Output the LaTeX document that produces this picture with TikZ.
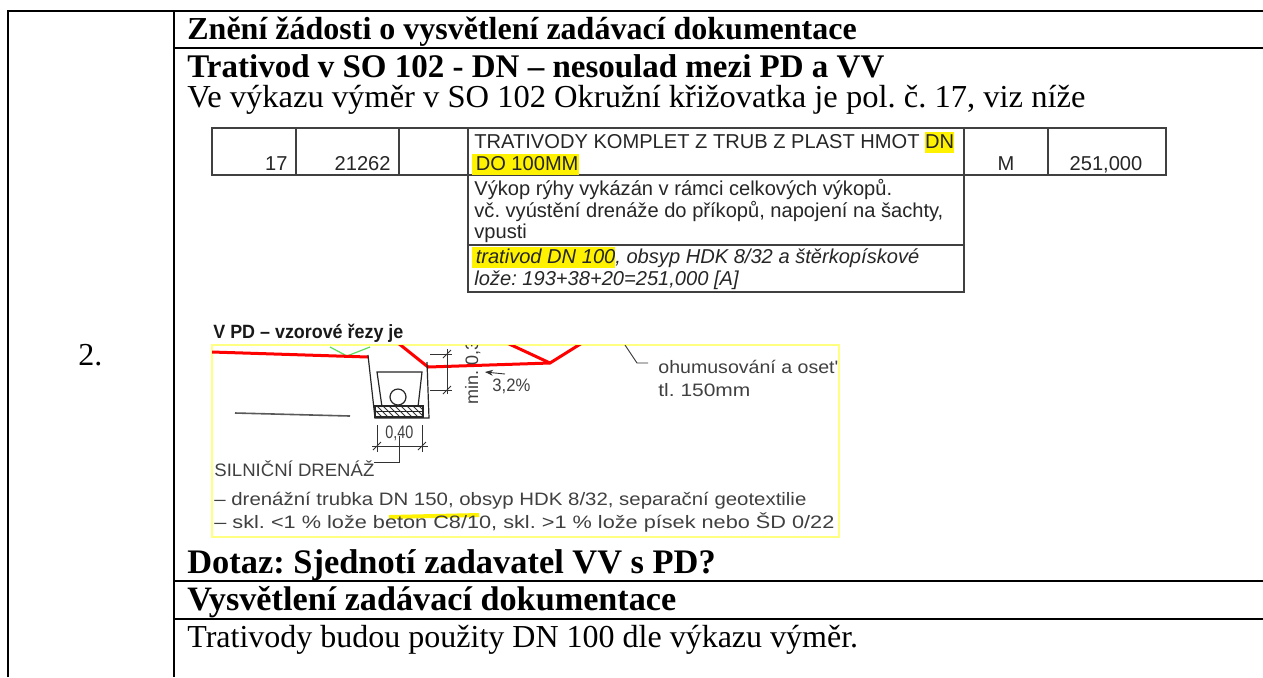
\documentclass[tikz,border=0pt]{standalone}
\usepackage{fontspec}
\setmainfont{Liberation Serif}
\newfontfamily\arialf{Liberation Sans}
\usetikzlibrary{patterns,arrows.meta}
\definecolor{cadyellow}{RGB}{255,255,130}
\definecolor{cadgreen}{RGB}{90,220,90}
\newcommand\hlbox[1]{{\setlength{\fboxsep}{0pt}\colorbox{yellow}{\rule[-2.6pt]{0pt}{10.8pt}#1}}}
\newcommand\fitw[2]{\resizebox{#1}{\height}{#2}}
\frenchspacing
\begin{document}
\begin{tikzpicture}[x=0.5pt,y=-0.5pt,
  frame/.style={line width=1pt,black},
  main/.style={anchor=base west,inner sep=0pt,font=\fontsize{16}{18}\selectfont},
  mainb/.style={anchor=base west,inner sep=0pt,font=\fontsize{16}{18}\selectfont\bfseries},
  tline/.style={line width=0.8pt,black!75},
  ttext/.style={inner sep=0pt,font=\arialf\fontsize{10.05}{11}\selectfont,text=black!85},
  cad/.style={inner sep=0pt,anchor=base west,font=\arialf\fontsize{9}{10}\selectfont,text=black!75},
  redl/.style={red,line width=1.5pt},
  blk/.style={black!85,line width=0.6pt},
  dim/.style={black!80,line width=0.45pt}]

\useasboundingbox (0,0) rectangle (1263,677);
\fill[white] (0,0) rectangle (1263,677);

% outer table frame
\draw[frame] (8,677) -- (8,11) -- (1263,11);
\draw[frame] (174,11) -- (174,677);
\draw[frame] (174,48) -- (1263,48);
\draw[frame] (174,581) -- (1263,581);
\draw[frame] (174,619) -- (1263,619);

\node[mainb] (h1) at (187,39) {Znění žádosti o vysvětlení zadávací dokumentace};
\node[mainb,font=\fontsize{16.5}{18}\selectfont\bfseries] (h2) at (187,77) {Trativod v SO 102 - DN – nesoulad mezi PD a VV};
\node[main] (t1) at (187,107) {\fitw{449pt}{Ve výkazu výměr v SO 102 Okružní křižovatka je pol. č. 17, viz níže}};
\node[main] (num) at (78,365) {2.};
\node[mainb,font=\fontsize{17.2}{18}\selectfont\bfseries] (q) at (187,573) {Dotaz: Sjednotí zadavatel VV s PD?};
\node[mainb,font=\fontsize{17.1}{18}\selectfont\bfseries] (h3) at (187,610) {Vysvětlení zadávací dokumentace};
\node[main] (ans) at (187,647) {Trativody budou použity DN 100 dle výkazu výměr.};

% embedded bill-of-quantities excerpt
\draw[tline] (212,128) rectangle (1166,175);
\draw[tline] (296,128) -- (296,175);
\draw[tline] (399,128) -- (399,175);
\draw[tline] (1048,128) -- (1048,175);
\draw[tline] (468,128) -- (468,292) -- (964,292) -- (964,128);
\draw[tline] (468,245) -- (964,245);
\node[ttext,anchor=base east] (c17) at (288,170) {17};
\node[ttext,anchor=base east] (ccode) at (391,170) {21262};
\node[ttext,anchor=base west] (d1) at (474,148) {TRATIVODY KOMPLET Z TRUB Z PLAST HMOT \hlbox{DN}};
\node[ttext,anchor=base west] (d2) at (472,170) {\hlbox{\,DO 100MM}};
\node[ttext,anchor=base] (cm) at (1006,170) {M};
\node[ttext,anchor=base] (cq) at (1106,170) {251,000};
\node[ttext,anchor=base west] (e1) at (474,195) {Výkop rýhy vykázán v rámci celkových výkopů.};
\node[ttext,anchor=base west] (e2) at (474,217) {vč. vyústění drenáže do příkopů, napojení na šachty,};
\node[ttext,anchor=base west] (e3) at (474,238) {vpusti};
\node[ttext,anchor=base west] (f1) at (472,263) {\itshape \hlbox{\,trativod DN 100}, obsyp HDK 8/32 a štěrkopískové};
\node[ttext,anchor=base west] (f2) at (474,285) {\itshape lože: 193+38+20=251,000 [A]};

% embedded section drawing
\node[cad,text=black!90,font=\arialf\bfseries\fontsize{9.6}{10}\selectfont] (vpd) at (213,338) {\fitw{95pt}{V PD – vzorové řezy je}};
\draw[cadyellow,line width=0.7pt] (212,345) rectangle (839,537);
\begin{scope}
\clip (212,345) rectangle (839,537);
\draw[cadgreen,line width=0.6pt] (330,347) -- (347,356) -- (370,347);
\draw[redl] (212,352) -- (368,357);
\draw[redl] (428,367) -- (550,363) -- (582,343);
\draw[redl] (398,343) -- (428,367);
\draw[redl] (507,343) -- (550,363);
\draw[blk] (368,355) -- (375,418) -- (429,418) -- (427,362);
\draw[blk] (382,407) -- (377,372) -- (422,372) -- (418,407);
\draw[blk] (398,397) circle[radius=8];
\fill[pattern=north west lines,pattern color=black!80] (375,406) rectangle (423,417);
\draw[blk] (375,406) rectangle (423,417);
\draw[blk] (375,411.5) -- (423,411.5);
\draw[black!65,line width=0.8pt] (235,413) -- (350,416);
% right dimension
\draw[dim] (430,354) -- (452,354);
\draw[dim] (430,390) -- (452,390);
\draw[dim] (447,349) -- (447,394);
\draw[dim] (443,358) -- (451,350);
\draw[dim] (443,394) -- (451,386);
\node[cad,rotate=90] (mind) at (478,405) {min. 0,30};
\node[cad] (slope) at (492,391) {\fitw{19pt}{3,2\%}};
\draw[dim,-{Stealth[length=4pt,width=3pt]}] (505,374) -- (485,372);
% bottom dimension
\node[cad] (w40) at (385,438) {\fitw{14pt}{0,40}};
\draw[dim] (372,446) -- (428,446);
\draw[dim] (377,425) -- (377,452);
\draw[dim] (422,425) -- (422,452);
\draw[dim] (373,450) -- (381,442);
\draw[dim] (418,450) -- (426,442);
\draw[dim] (399,436) -- (399,462) -- (374,462);
% texts
\node[cad] (sd) at (214,476) {\fitw{80pt}{SILNIČNÍ DRENÁŽ}};
\draw[yellow,line width=2pt] (389,517) -- (479,515);
\node[cad] (l1) at (214,505) {\fitw{296pt}{– drenážní trubka DN 150, obsyp HDK 8/32, separační geotextilie}};
\node[cad] (l2) at (214,528) {\fitw{310pt}{– skl. <1 \% lože beton C8/10, skl. >1 \% lože písek nebo ŠD 0/22}};
\draw[dim] (625,345) -- (637,363) -- (648,363);
\node[cad] (oh1) at (658,373) {\fitw{90pt}{ohumusování a oset'}};
\node[cad] (oh2) at (658,396) {\fitw{46pt}{tl. 150mm}};
\end{scope}
\end{tikzpicture}
\end{document}
